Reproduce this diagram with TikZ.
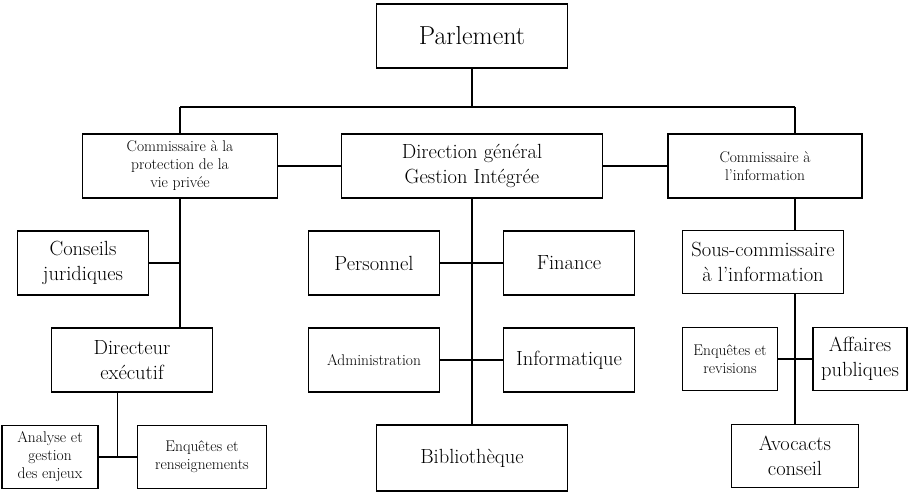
\documentclass[tikz,border=0pt]{standalone}
\usetikzlibrary{positioning,calc}

\tikzset{
  box/.style={draw,line width=1.3pt,align=center,inner sep=1pt,minimum height=64pt},
  bigtext/.style={font=\fontsize{26}{30}\selectfont},
  midtext/.style={font=\fontsize{20.5}{25}\selectfont},
  smalltext/.style={font=\fontsize{15.5}{18}\selectfont},
  link/.style={line width=1.3pt}
}

\begin{document}
\begin{tikzpicture}[x=1pt,y=1pt,node distance=97pt,on grid]
   \useasboundingbox (0,0) rectangle (908,-492);
   \node[box,bigtext,minimum width=191pt] (parl) at (472,-36) {Parlement};
   \node[box,midtext,minimum width=261pt] (dggi) [below=130pt of parl] {Direction général\\Gestion Intégrée};
   \node[box,smalltext,minimum width=195pt] (cpvp) [left=292pt of dggi] {Commissaire à la\\protection de la\\vie privée};
   \node[box,smalltext,minimum width=194pt] (cinfo) [right=293pt of dggi] {Commissaire à\\l'information};
   \node[box,midtext,minimum width=131pt] (pers) [below left=97pt and 98pt of dggi] {Personnel};
   \node[box,midtext,minimum width=131pt] (fin) [below right=97pt and 97pt of dggi] {Finance};
   \node[box,smalltext,minimum width=131pt] (admin) [below=of pers] {Administration};
   \node[box,midtext,minimum width=131pt] (info) [below=of fin] {Informatique};
   \node[box,midtext,minimum width=191pt,minimum height=66pt] (biblio) [below=292pt of dggi] {Bibliothèque};
   \node[box,midtext,minimum width=131pt] (consj) [below left=97pt and 97pt of cpvp] {Conseils\\juridiques};
   \node[box,midtext,minimum width=161pt] (dirx) [below left=194pt and 48pt of cpvp] {Directeur\\exécutif};
   \node[box,smalltext,minimum width=96pt,minimum height=63pt] (analyse) [below left=97pt and 82pt of dirx] {Analyse et\\gestion\\des enjeux};
   \node[box,smalltext,minimum width=129pt,minimum height=63pt] (enqren) [below right=97pt and 70pt of dirx] {Enquêtes et\\renseignements};
   \node[box,midtext,minimum width=161pt,minimum height=63pt] (sous) [below left=96pt and 2pt of cinfo] {Sous-commissaire\\à l'information};
   \node[box,smalltext,minimum width=95pt,minimum height=63pt] (enqrev) [below left=97pt and 33pt of sous] {Enquêtes et\\revisions};
   \node[box,midtext,minimum width=94pt,minimum height=63pt] (affp) [below right=97pt and 97pt of sous] {Affaires\\publiques};
   \node[box,midtext,minimum width=127pt,minimum height=63pt] (avoc) [below right=194pt and 32pt of sous] {Avocacts\\conseil};

   \coordinate (bus) at ($(parl.center)+(0,-71)$);
   \coordinate (lj) at ($(analyse.east)!.5!(enqren.west)$);

   \draw[link] (parl) -- (bus);
   \draw[link] (cpvp.north |- bus) -- (bus -| avoc);
   \draw[link] (cpvp.north |- bus) -- (cpvp.north);
   \draw[link] (bus -| avoc) -- (cinfo.north -| avoc);
   \draw[link] (cpvp.east) -- (dggi.west);
   \draw[link] (dggi.east) -- (cinfo.west);
   \draw[link] (dggi.south) -- (biblio.north);
   \draw[link] (pers.east) -- (fin.west);
   \draw[link] (admin.east) -- (info.west);
   \draw[link] (cpvp.south) -- (cpvp.south |- dirx.north);
   \draw[link] (consj.east) -- (consj.east -| cpvp.south);
   \draw[link] (analyse.east) -- (enqren.west);
   \draw[link] (dirx.south -| lj) -- (lj);
   \draw[link] (cinfo.south -| avoc) -- (sous.north -| avoc);
   \draw[link] (sous.south -| avoc) -- (avoc.north);
   \draw[link] (enqrev.east) -- (affp.west);
\end{tikzpicture}
\end{document}
